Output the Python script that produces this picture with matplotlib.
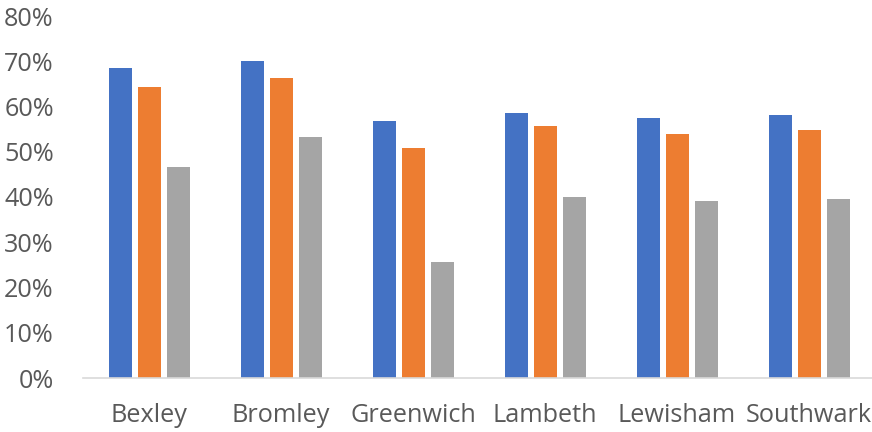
import matplotlib
matplotlib.use("Agg")
import matplotlib.pyplot as plt
import numpy as np
from matplotlib.ticker import PercentFormatter

boroughs = ["Bexley", "Bromley", "Greenwich", "Lambeth", "Lewisham", "Southwark"]
series_1 = [68.4, 70.0, 56.9, 58.5, 57.5, 58.2]
series_2 = [64.2, 66.4, 50.9, 55.6, 53.9, 54.7]
series_3 = [46.7, 53.2, 25.7, 39.9, 39.1, 39.5]
y_ticks = [0, 10, 20, 30, 40, 50, 60, 70, 80]

colors = ["#4472C4", "#ED7D31", "#A5A5A5"]
text_color = "#595959"

plt.rcParams["font.family"] = ["Open Sans", "DejaVu Sans"]

fig = plt.figure(figsize=(8.72, 4.32), dpi=100)
ax = fig.add_axes([83 / 872, 54 / 432, (875 - 83) / 872, (378 - 16) / 432])

x = np.arange(len(boroughs))
width = 23 / 132
step = 29 / 132
for i, (vals, c) in enumerate(zip([series_1, series_2, series_3], colors)):
    ax.bar(x + (i - 1) * step, vals, width=width, color=c, zorder=2)

ax.set_xlim(-0.5, len(boroughs) - 0.5)
ax.set_ylim(0, 80)
ax.set_yticks(y_ticks)
ax.yaxis.set_major_formatter(PercentFormatter(decimals=0))
ax.set_xticks(x)
ax.set_xticklabels(boroughs)

for s in ["top", "right", "left"]:
    ax.spines[s].set_visible(False)
ax.spines["bottom"].set_color("#D9D9D9")
ax.spines["bottom"].set_linewidth(1.2)

ax.tick_params(axis="both", length=0, labelsize=18.2, colors=text_color)
ax.tick_params(axis="y", pad=21)
ax.tick_params(axis="x", pad=18)

fig.savefig("out.png", dpi=100)
